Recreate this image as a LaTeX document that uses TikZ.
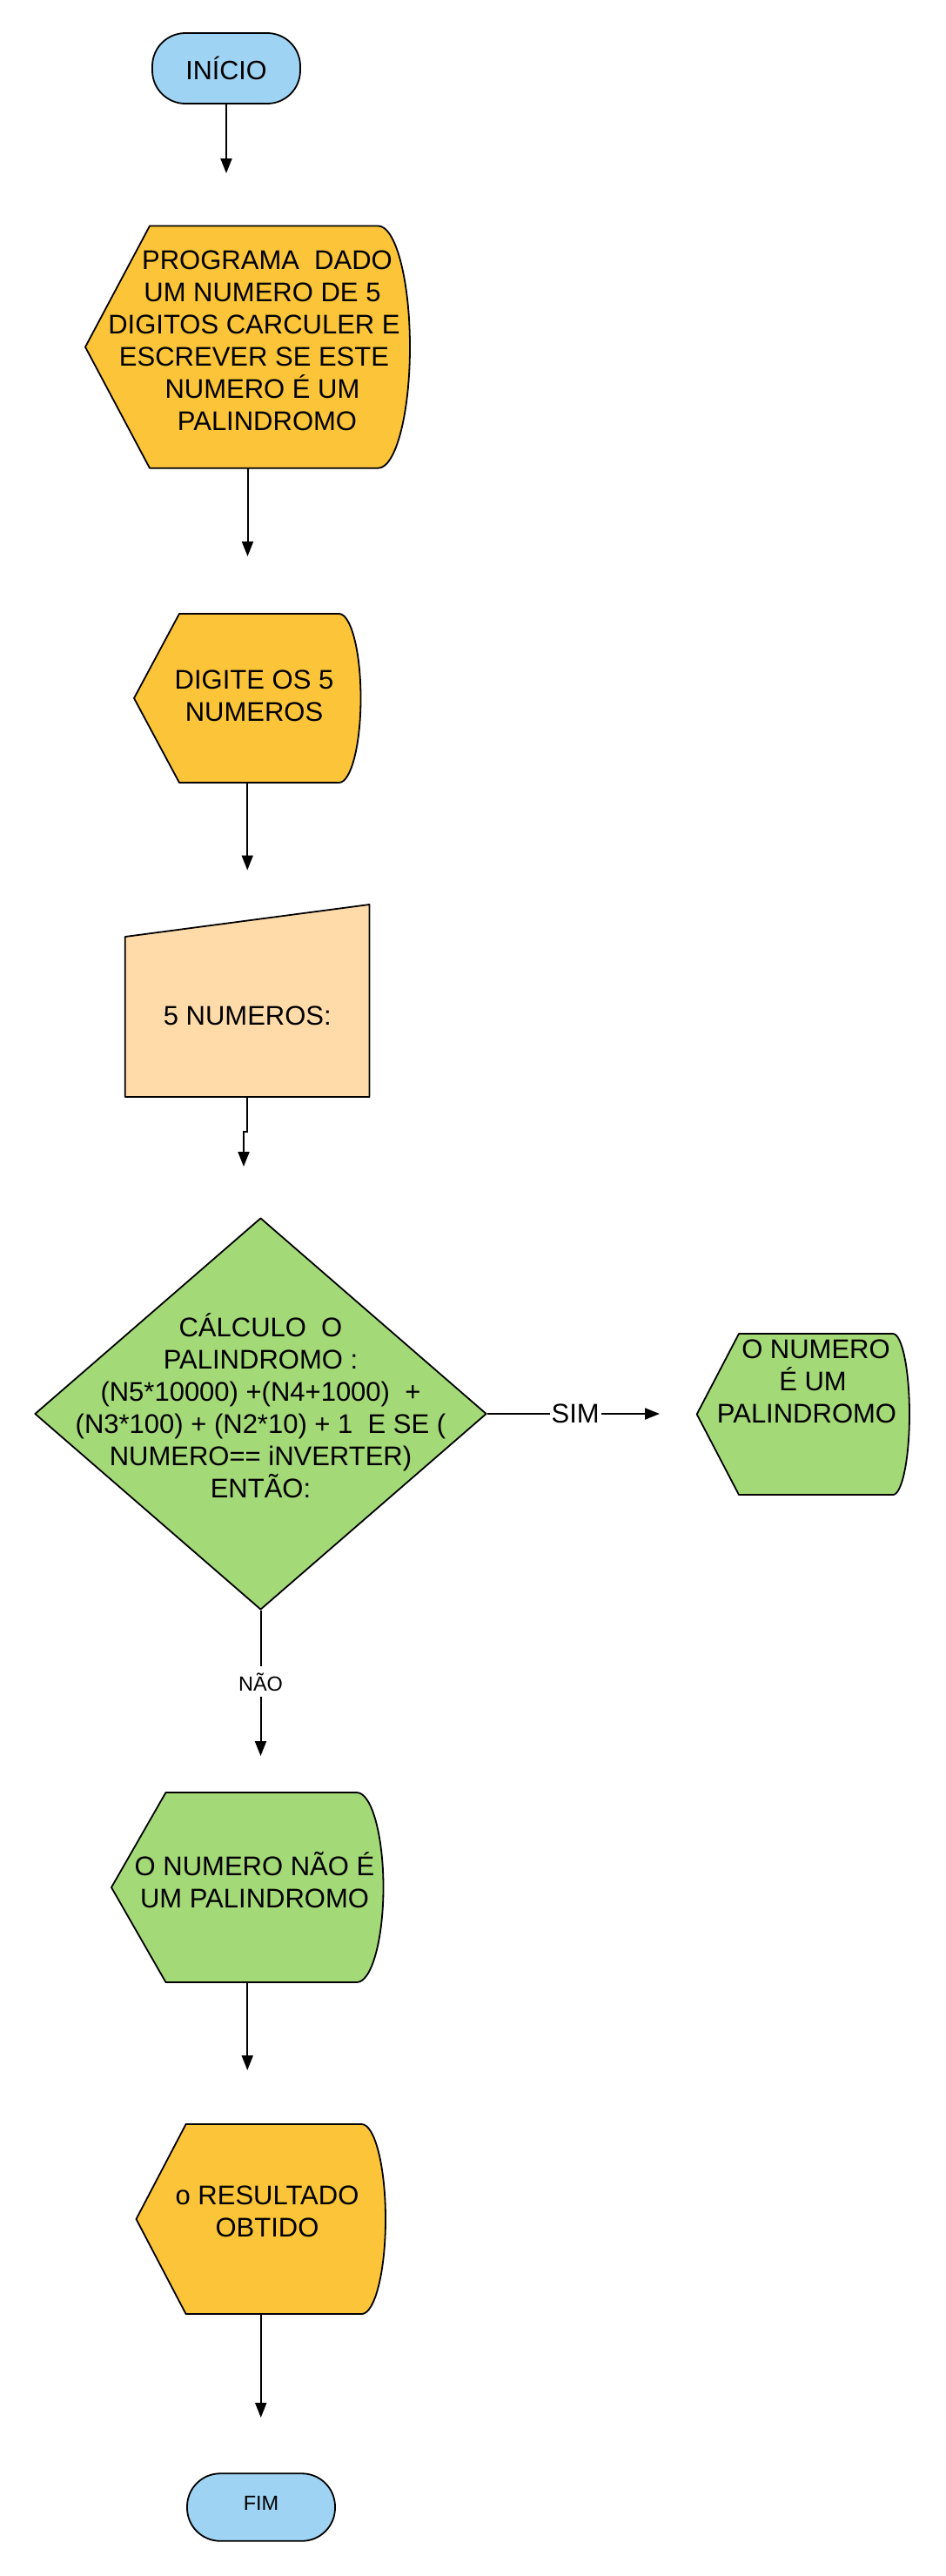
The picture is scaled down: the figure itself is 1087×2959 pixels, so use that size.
\documentclass[tikz,border=0pt]{standalone}
\usepackage{fontspec}
\setmainfont{Liberation Sans}
\usetikzlibrary{shapes.geometric,arrows.meta}
\definecolor{cblue}{HTML}{9ED3F3}
\definecolor{corange}{HTML}{FCC438}
\definecolor{cpeach}{HTML}{FFDBA9}
\definecolor{cgreen}{HTML}{A3D977}
\tikzset{
  shp/.style={draw=black, line width=1.8pt, line join=round},
  term/.style={shp, rectangle, rounded corners=38pt, inner sep=0pt, fill=cblue},
  bbox/.style={rectangle, inner sep=0pt, outer sep=0pt, draw=none},
  txt/.style={align=center, inner sep=0pt, font=\fontsize{31}{37}\selectfont,
              execute at begin node=\strut, execute at end node=\strut},
  arr/.style={line width=2pt, -{Triangle[length=17pt,width=13pt]}},
  lbl/.style={fill=white, inner xsep=2pt, inner ysep=7pt},
}
\newcommand{\dispshape}[7]{%
  \path[shp, fill=#7] (#1,{(#5+#6)/2}) -- (#2,#5) -- (#3,#5)
    .. controls ({#3+0.5523*(#4-#3)},#5) and (#4,{(#5+#6)/2-0.5523*(#6-#5)/2}) .. (#4,{(#5+#6)/2})
    .. controls (#4,{(#5+#6)/2+0.5523*(#6-#5)/2}) and ({#3+0.5523*(#4-#3)},#6) .. (#3,#6)
    -- (#2,#6) -- cycle;}
\begin{document}
\begin{tikzpicture}[x=1pt,y=-1pt]
\useasboundingbox (0,0) rectangle (1087,2959);

% start
\node[term, minimum width=170pt, minimum height=81pt, font=\fontsize{30.5}{36}\selectfont] (inicio) at (260,78.5) {INÍCIO};

% program description
\dispshape{98}{172}{434.5}{471}{259.5}{537.7}{corange}
\node[bbox, minimum width=373pt, minimum height=278.2pt] (prog) at (284.5,398.6) {};
\node[txt] (prog-t) at (292,397) {\hspace*{30pt}PROGRAMA\ \ DADO\\ \hspace*{19pt}UM NUMERO DE 5\\ DIGITOS CARCULER E\\ ESCREVER SE ESTE\\ \hspace*{19pt}NUMERO É UM\\ \hspace*{30pt}PALINDROMO};

% digite
\dispshape{154}{206}{389.5}{414.5}{705}{899}{corange}
\node[bbox, minimum width=260.5pt, minimum height=194pt] (dig) at (284.25,802) {};
\node[txt] (dig-t) at (292,804.5) {DIGITE OS 5\\ NUMEROS};

% manual input
\path[shp, fill=cpeach] (143.7,1076) -- (424.5,1039) -- (424.5,1260) -- (143.7,1260) -- cycle;
\node[bbox, minimum width=280.8pt, minimum height=221pt] (man) at (284.1,1149.5) {};
\node[txt] (man-t) at (284.3,1169.9) {5 NUMEROS:};

% decision
\node[shp, diamond, fill=cgreen, minimum width=519pt, minimum height=450pt, inner sep=0pt] (dec) at (299.5,1624) {};
\node[txt] (dec-t) at (299.5,1619.6) {CÁLCULO\ \ O\\ PALINDROMO :\\ (N5*10000) +(N4+1000)\ \ +\\ (N3*100) + (N2*10) + 1\ \ E SE (\\ NUMERO== iNVERTER)\\ ENTÃO:};

% yes result
\dispshape{800.7}{849}{1026}{1045}{1532}{1717}{cgreen}
\node[bbox, minimum width=244.3pt, minimum height=185pt] (yes) at (922.85,1624.5) {};
\node[txt] (yes-t) at (927,1592.4) {\hspace*{21pt}O NUMERO\\ \hspace*{14pt}É UM\\ PALINDROMO};

% no result
\dispshape{128}{190.5}{410}{440.5}{2059}{2277}{cgreen}
\node[bbox, minimum width=312.5pt, minimum height=218pt] (nao) at (284.25,2168) {};
\node[txt] (nao-t) at (292.5,2165) {O NUMERO NÃO É\\ UM PALINDROMO};

% result
\dispshape{156.5}{213.6}{415.5}{443}{2440}{2658}{corange}
\node[bbox, minimum width=286.5pt, minimum height=218pt] (res) at (299.75,2549) {};
\node[txt] (res-t) at (307,2546) {o RESULTADO\\ OBTIDO};

% end
\node[term, minimum width=170pt, minimum height=77.5pt] (fim) at (300,2880) {};
\node[inner sep=0pt, font=\fontsize{23.5}{28}\selectfont] (fim-t) at (300,2875) {FIM};

% connectors
\coordinate (a1) at (260,199);
\coordinate (a2) at (284.5,639);
\coordinate (a3) at (284.25,999.5);
\coordinate (a4) at (280,1340);
\coordinate (a5) at (758,1624);
\coordinate (a6) at (299.5,2017);
\coordinate (a7) at (284.25,2378);
\coordinate (a8) at (299.75,2777);

\draw[arr] (inicio.south) -- (a1);
\draw[arr] (prog.south) -- (a2);
\draw[arr] (dig.south) -- (a3);
\draw[arr] (man.south) -- ++(0,39.5) -| (a4);
\draw[arr] (dec.east) -- node[lbl, pos=0.511, font=\fontsize{31}{36}\selectfont] (sim-l) {SIM} (a5);
\draw[arr] (dec.south) -- node[lbl, pos=0.49, font=\fontsize{23.5}{28}\selectfont] (nao-l) {NÃO} (a6);
\draw[arr] (nao.south) -- (a7);
\draw[arr] (res.south) -- (a8);
\end{tikzpicture}
\end{document}
